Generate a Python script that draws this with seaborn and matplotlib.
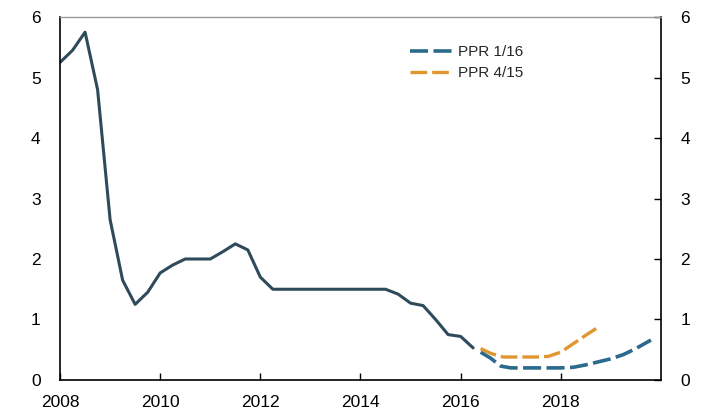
import matplotlib
matplotlib.use('Agg')
import matplotlib.pyplot as plt
import seaborn as sns
import pandas as pd

# policy rate history, quarterly
hist_x = [2008.0, 2008.25, 2008.5, 2008.75, 2009.0, 2009.25, 2009.5, 2009.75,
          2010.0, 2010.25, 2010.5, 2010.75, 2011.0, 2011.25, 2011.5, 2011.75,
          2012.0, 2012.25, 2012.5, 2012.75, 2013.0, 2013.25, 2013.5, 2013.75,
          2014.0, 2014.25, 2014.5, 2014.75, 2015.0, 2015.25, 2015.5, 2015.75,
          2016.0, 2016.25]
hist_y = [5.25, 5.45, 5.75, 4.8, 2.65, 1.65, 1.25, 1.45,
          1.77, 1.9, 2.0, 2.0, 2.0, 2.12, 2.25, 2.15,
          1.7, 1.5, 1.5, 1.5, 1.5, 1.5, 1.5, 1.5,
          1.5, 1.5, 1.5, 1.42, 1.27, 1.23, 1.0, 0.75,
          0.72, 0.53]

# projection PPR 1/16
ppr116_x = [2016.4, 2016.6, 2016.8, 2017.0, 2017.25, 2017.5, 2017.75, 2018.0,
            2018.25, 2018.5, 2018.75, 2019.0, 2019.25, 2019.5, 2019.8]
ppr116_y = [0.46, 0.36, 0.23, 0.2, 0.2, 0.2, 0.2, 0.2,
            0.21, 0.25, 0.3, 0.35, 0.42, 0.52, 0.66]

# projection PPR 4/15
ppr415_x = [2016.4, 2016.6, 2016.85, 2017.0, 2017.25, 2017.5, 2017.75, 2018.0,
            2018.25, 2018.5, 2018.76]
ppr415_y = [0.52, 0.44, 0.38, 0.38, 0.38, 0.38, 0.39, 0.46,
            0.6, 0.74, 0.88]

sns.set_style('white')
plt.rcParams['font.family'] = ['Liberation Sans', 'DejaVu Sans']

fig = plt.figure(figsize=(7.13, 4.12), dpi=100)
ax = fig.add_axes([0.0842, 0.0777, 0.8428, 0.881])

hist_df = pd.DataFrame({'x': hist_x, 'y': hist_y})
p116_df = pd.DataFrame({'x': ppr116_x, 'y': ppr116_y})
p415_df = pd.DataFrame({'x': ppr415_x, 'y': ppr415_y})

dash = (0, (5, 1.5))
sns.lineplot(data=hist_df, x='x', y='y', ax=ax, color='#2f4b5b', linewidth=2.2)
sns.lineplot(data=p116_df, x='x', y='y', ax=ax, color='#2b6a8c', linewidth=2.6,
             linestyle=dash, label='PPR 1/16')
sns.lineplot(data=p415_df, x='x', y='y', ax=ax, color='#e0962f', linewidth=2.4,
             linestyle=dash, label='PPR 4/15')

ax.set_xlim(2008, 2020)
ax.set_ylim(0, 6)
ax.set_xticks([2008, 2010, 2012, 2014, 2016, 2018])
ax.set_yticks([0, 1, 2, 3, 4, 5, 6])
ax.set_xlabel('')
ax.set_ylabel('')
ax.tick_params(axis='both', direction='in', length=5, width=1, labelsize=12.5,
               colors='black')
ax.tick_params(axis='y', right=True, labelright=True, pad=14)
ax.tick_params(axis='x', bottom=True, pad=11)

for side in ['left', 'right', 'bottom']:
    ax.spines[side].set_color('black')
    ax.spines[side].set_linewidth(1.2)
ax.spines['top'].set_color('#999999')
ax.spines['top'].set_linewidth(1.0)

leg = ax.legend(loc='upper left', bbox_to_anchor=(0.56, 0.96), frameon=False,
                fontsize=11, handlelength=2.75, handletextpad=0.35,
                labelspacing=0.45)

fig.savefig('out.png', dpi=100)
